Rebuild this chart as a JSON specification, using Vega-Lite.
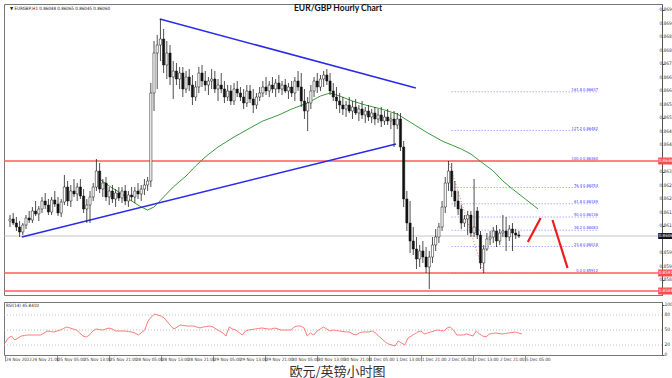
{
"$schema":"https://vega.github.io/schema/vega-lite/v6.json",
"padding":{"left":2,"top":3,"right":0,"bottom":0},
"background":"white",
"config":{"view":{"stroke":"#777","strokeWidth":1},"font":"Liberation Sans"},
"spacing":5,
"title":{"text":"欧元/英镑小时图","orient":"bottom","anchor":"start","dx":287,"font":"Noto Sans CJK SC","fontSize":13,"fontWeight":"normal","color":"#333","offset":4},
"datasets":{
"bars":[
{"i":0,"o":0.8612,"h":0.86144,"l":0.86096,"c":0.86128,"r":24},
{"i":1,"o":0.86128,"h":0.86152,"l":0.86104,"c":0.86112,"r":34},
{"i":2,"o":0.86112,"h":0.86136,"l":0.8608,"c":0.86096,"r":38},
{"i":3,"o":0.86096,"h":0.8612,"l":0.86056,"c":0.86076,"r":30},
{"i":4,"o":0.86076,"h":0.86112,"l":0.86064,"c":0.86104,"r":34},
{"i":5,"o":0.86104,"h":0.86144,"l":0.86088,"c":0.86132,"r":38},
{"i":6,"o":0.86132,"h":0.8616,"l":0.86112,"c":0.86124,"r":39},
{"i":7,"o":0.86124,"h":0.86176,"l":0.86112,"c":0.8616,"r":40},
{"i":8,"o":0.8616,"h":0.862,"l":0.8614,"c":0.86148,"r":40},
{"i":9,"o":0.86148,"h":0.8618,"l":0.8612,"c":0.86168,"r":40},
{"i":10,"o":0.86168,"h":0.86216,"l":0.86152,"c":0.862,"r":40},
{"i":11,"o":0.862,"h":0.86232,"l":0.86168,"c":0.86184,"r":40},
{"i":12,"o":0.86184,"h":0.86208,"l":0.86144,"c":0.86156,"r":44},
{"i":13,"o":0.86156,"h":0.86216,"l":0.86144,"c":0.86204,"r":48},
{"i":14,"o":0.86204,"h":0.8624,"l":0.86176,"c":0.86188,"r":47},
{"i":15,"o":0.86188,"h":0.86216,"l":0.8614,"c":0.86152,"r":46},
{"i":16,"o":0.86152,"h":0.86208,"l":0.86136,"c":0.86196,"r":48},
{"i":17,"o":0.86196,"h":0.86304,"l":0.86184,"c":0.86256,"r":50},
{"i":18,"o":0.86256,"h":0.8628,"l":0.8618,"c":0.862,"r":53},
{"i":19,"o":0.862,"h":0.86264,"l":0.86176,"c":0.8624,"r":56},
{"i":20,"o":0.8624,"h":0.86288,"l":0.86216,"c":0.86228,"r":54},
{"i":21,"o":0.86228,"h":0.86272,"l":0.862,"c":0.86256,"r":52},
{"i":22,"o":0.86256,"h":0.86288,"l":0.86208,"c":0.8622,"r":50},
{"i":23,"o":0.8622,"h":0.86248,"l":0.86152,"c":0.86168,"r":44},
{"i":24,"o":0.86168,"h":0.86208,"l":0.86112,"c":0.86184,"r":38},
{"i":25,"o":0.86184,"h":0.8624,"l":0.86112,"c":0.86216,"r":36},
{"i":26,"o":0.86216,"h":0.86272,"l":0.862,"c":0.86256,"r":40},
{"i":27,"o":0.86256,"h":0.86368,"l":0.8624,"c":0.8632,"r":48},
{"i":28,"o":0.8632,"h":0.86352,"l":0.86232,"c":0.86248,"r":52},
{"i":29,"o":0.86248,"h":0.86288,"l":0.86216,"c":0.86272,"r":51},
{"i":30,"o":0.86272,"h":0.86296,"l":0.862,"c":0.86216,"r":50},
{"i":31,"o":0.86216,"h":0.86256,"l":0.86184,"c":0.8624,"r":52},
{"i":32,"o":0.8624,"h":0.86264,"l":0.86192,"c":0.86208,"r":54},
{"i":33,"o":0.86208,"h":0.86248,"l":0.86176,"c":0.86232,"r":52},
{"i":34,"o":0.86232,"h":0.86256,"l":0.862,"c":0.86212,"r":48},
{"i":35,"o":0.86212,"h":0.86256,"l":0.86192,"c":0.8624,"r":48},
{"i":36,"o":0.8624,"h":0.86264,"l":0.86184,"c":0.862,"r":48},
{"i":37,"o":0.862,"h":0.8624,"l":0.86176,"c":0.86224,"r":48},
{"i":38,"o":0.86224,"h":0.86256,"l":0.862,"c":0.86216,"r":47},
{"i":39,"o":0.86216,"h":0.86256,"l":0.86192,"c":0.8624,"r":46},
{"i":40,"o":0.8624,"h":0.86272,"l":0.86208,"c":0.86228,"r":44},
{"i":41,"o":0.86228,"h":0.86264,"l":0.862,"c":0.86248,"r":40},
{"i":42,"o":0.86248,"h":0.86288,"l":0.86224,"c":0.86264,"r":45},
{"i":43,"o":0.86264,"h":0.86296,"l":0.8624,"c":0.8628,"r":50},
{"i":44,"o":0.8628,"h":0.86672,"l":0.86256,"c":0.86632,"r":68},
{"i":45,"o":0.86632,"h":0.8684,"l":0.8656,"c":0.86792,"r":76},
{"i":46,"o":0.86792,"h":0.86864,"l":0.86648,"c":0.86824,"r":82},
{"i":47,"o":0.86824,"h":0.86928,"l":0.8676,"c":0.86848,"r":80},
{"i":48,"o":0.86848,"h":0.86888,"l":0.86712,"c":0.86744,"r":78},
{"i":49,"o":0.86744,"h":0.8684,"l":0.86688,"c":0.86792,"r":74},
{"i":50,"o":0.86792,"h":0.86824,"l":0.86664,"c":0.86696,"r":66},
{"i":51,"o":0.86696,"h":0.8676,"l":0.86608,"c":0.8672,"r":58},
{"i":52,"o":0.8672,"h":0.86752,"l":0.86664,"c":0.86688,"r":52},
{"i":53,"o":0.86688,"h":0.86736,"l":0.86648,"c":0.86712,"r":56},
{"i":54,"o":0.86712,"h":0.86736,"l":0.86616,"c":0.86648,"r":60},
{"i":55,"o":0.86648,"h":0.8672,"l":0.86632,"c":0.86696,"r":59},
{"i":56,"o":0.86696,"h":0.86728,"l":0.8664,"c":0.86664,"r":58},
{"i":57,"o":0.86664,"h":0.86704,"l":0.86584,"c":0.86616,"r":58},
{"i":58,"o":0.86616,"h":0.8668,"l":0.866,"c":0.86656,"r":58},
{"i":59,"o":0.86656,"h":0.86736,"l":0.86632,"c":0.86712,"r":56},
{"i":60,"o":0.86712,"h":0.86744,"l":0.86656,"c":0.8668,"r":54},
{"i":61,"o":0.8668,"h":0.8672,"l":0.8664,"c":0.86664,"r":56},
{"i":62,"o":0.86664,"h":0.86696,"l":0.86624,"c":0.8668,"r":57},
{"i":63,"o":0.8668,"h":0.86728,"l":0.86648,"c":0.86688,"r":58},
{"i":64,"o":0.86688,"h":0.8672,"l":0.86632,"c":0.86648,"r":56},
{"i":65,"o":0.86648,"h":0.86688,"l":0.866,"c":0.86664,"r":52},
{"i":66,"o":0.86664,"h":0.86712,"l":0.86632,"c":0.86648,"r":48},
{"i":67,"o":0.86648,"h":0.8668,"l":0.86592,"c":0.86616,"r":44},
{"i":68,"o":0.86616,"h":0.86664,"l":0.866,"c":0.8664,"r":38},
{"i":69,"o":0.8664,"h":0.86664,"l":0.86584,"c":0.866,"r":56},
{"i":70,"o":0.866,"h":0.86672,"l":0.86584,"c":0.86648,"r":52},
{"i":71,"o":0.86648,"h":0.8668,"l":0.86616,"c":0.86632,"r":50},
{"i":72,"o":0.86632,"h":0.86656,"l":0.866,"c":0.86616,"r":45},
{"i":73,"o":0.86616,"h":0.86648,"l":0.86568,"c":0.86592,"r":40},
{"i":74,"o":0.86592,"h":0.86664,"l":0.86576,"c":0.8664,"r":48},
{"i":75,"o":0.8664,"h":0.86664,"l":0.86592,"c":0.86608,"r":50},
{"i":76,"o":0.86608,"h":0.86648,"l":0.86552,"c":0.86584,"r":51},
{"i":77,"o":0.86584,"h":0.86632,"l":0.86568,"c":0.86616,"r":52},
{"i":78,"o":0.86616,"h":0.86656,"l":0.866,"c":0.86632,"r":53},
{"i":79,"o":0.86632,"h":0.8668,"l":0.86616,"c":0.86656,"r":54},
{"i":80,"o":0.86656,"h":0.86696,"l":0.86624,"c":0.8664,"r":53},
{"i":81,"o":0.8664,"h":0.8668,"l":0.86616,"c":0.86664,"r":52},
{"i":82,"o":0.86664,"h":0.86696,"l":0.86632,"c":0.86648,"r":52},
{"i":83,"o":0.86648,"h":0.86688,"l":0.86616,"c":0.86672,"r":54},
{"i":84,"o":0.86672,"h":0.86704,"l":0.86632,"c":0.86648,"r":52},
{"i":85,"o":0.86648,"h":0.8668,"l":0.86624,"c":0.86664,"r":50},
{"i":86,"o":0.86664,"h":0.86688,"l":0.86632,"c":0.8664,"r":50},
{"i":87,"o":0.8664,"h":0.86672,"l":0.86608,"c":0.86656,"r":50},
{"i":88,"o":0.86656,"h":0.8668,"l":0.86616,"c":0.86632,"r":50},
{"i":89,"o":0.86632,"h":0.86696,"l":0.866,"c":0.8668,"r":56},
{"i":90,"o":0.8668,"h":0.8672,"l":0.8664,"c":0.86656,"r":58},
{"i":91,"o":0.86656,"h":0.86712,"l":0.86576,"c":0.866,"r":58},
{"i":92,"o":0.866,"h":0.86648,"l":0.86528,"c":0.8656,"r":54},
{"i":93,"o":0.8656,"h":0.86616,"l":0.8648,"c":0.86592,"r":38},
{"i":94,"o":0.86592,"h":0.86664,"l":0.86568,"c":0.8664,"r":44},
{"i":95,"o":0.8664,"h":0.86696,"l":0.86616,"c":0.8668,"r":40},
{"i":96,"o":0.8668,"h":0.86712,"l":0.86632,"c":0.86656,"r":48},
{"i":97,"o":0.86656,"h":0.86704,"l":0.8664,"c":0.86688,"r":52},
{"i":98,"o":0.86688,"h":0.8672,"l":0.86656,"c":0.86704,"r":56},
{"i":99,"o":0.86704,"h":0.86728,"l":0.86664,"c":0.8668,"r":52},
{"i":100,"o":0.8668,"h":0.86712,"l":0.86624,"c":0.8664,"r":48},
{"i":101,"o":0.8664,"h":0.86672,"l":0.866,"c":0.86616,"r":50},
{"i":102,"o":0.86616,"h":0.86656,"l":0.86568,"c":0.866,"r":49},
{"i":103,"o":0.866,"h":0.86632,"l":0.86552,"c":0.86584,"r":48},
{"i":104,"o":0.86584,"h":0.86616,"l":0.86544,"c":0.86568,"r":47},
{"i":105,"o":0.86568,"h":0.866,"l":0.86536,"c":0.86584,"r":46},
{"i":106,"o":0.86584,"h":0.86616,"l":0.86552,"c":0.8656,"r":46},
{"i":107,"o":0.8656,"h":0.866,"l":0.86528,"c":0.86576,"r":42},
{"i":108,"o":0.86576,"h":0.86608,"l":0.86544,"c":0.86552,"r":40},
{"i":109,"o":0.86552,"h":0.86584,"l":0.8652,"c":0.86568,"r":44},
{"i":110,"o":0.86568,"h":0.866,"l":0.86528,"c":0.86544,"r":46},
{"i":111,"o":0.86544,"h":0.86576,"l":0.86512,"c":0.8656,"r":46},
{"i":112,"o":0.8656,"h":0.86584,"l":0.8652,"c":0.86536,"r":46},
{"i":113,"o":0.86536,"h":0.86568,"l":0.86512,"c":0.86552,"r":48},
{"i":114,"o":0.86552,"h":0.86576,"l":0.86504,"c":0.86528,"r":44},
{"i":115,"o":0.86528,"h":0.86568,"l":0.86512,"c":0.86544,"r":38},
{"i":116,"o":0.86544,"h":0.86576,"l":0.86496,"c":0.8652,"r":32},
{"i":117,"o":0.8652,"h":0.8656,"l":0.86504,"c":0.86536,"r":26},
{"i":118,"o":0.86536,"h":0.86568,"l":0.86504,"c":0.8652,"r":22},
{"i":119,"o":0.8652,"h":0.86552,"l":0.86488,"c":0.86528,"r":20},
{"i":120,"o":0.86528,"h":0.8656,"l":0.86416,"c":0.86504,"r":18},
{"i":121,"o":0.86504,"h":0.86552,"l":0.86488,"c":0.86528,"r":28},
{"i":122,"o":0.86528,"h":0.86552,"l":0.864,"c":0.86416,"r":24},
{"i":123,"o":0.86416,"h":0.8644,"l":0.86176,"c":0.86208,"r":20},
{"i":124,"o":0.86208,"h":0.8624,"l":0.8608,"c":0.86112,"r":34},
{"i":125,"o":0.86112,"h":0.862,"l":0.85992,"c":0.8604,"r":38},
{"i":126,"o":0.8604,"h":0.86096,"l":0.85984,"c":0.86008,"r":42},
{"i":127,"o":0.86008,"h":0.86056,"l":0.85928,"c":0.85968,"r":46},
{"i":128,"o":0.85968,"h":0.86024,"l":0.85936,"c":0.86,"r":48},
{"i":129,"o":0.86,"h":0.8604,"l":0.85952,"c":0.85976,"r":42},
{"i":130,"o":0.85976,"h":0.86016,"l":0.85912,"c":0.85936,"r":44},
{"i":131,"o":0.85936,"h":0.86,"l":0.85848,"c":0.85976,"r":46},
{"i":132,"o":0.85976,"h":0.86056,"l":0.85952,"c":0.86024,"r":48},
{"i":133,"o":0.86024,"h":0.86088,"l":0.86,"c":0.86056,"r":50},
{"i":134,"o":0.86056,"h":0.86112,"l":0.86032,"c":0.86096,"r":49},
{"i":135,"o":0.86096,"h":0.862,"l":0.8608,"c":0.86176,"r":48},
{"i":136,"o":0.86176,"h":0.86296,"l":0.86152,"c":0.86272,"r":54},
{"i":137,"o":0.86272,"h":0.8636,"l":0.8624,"c":0.8632,"r":56},
{"i":138,"o":0.8632,"h":0.86352,"l":0.86216,"c":0.8624,"r":50},
{"i":139,"o":0.8624,"h":0.8628,"l":0.86176,"c":0.862,"r":40},
{"i":140,"o":0.862,"h":0.8624,"l":0.86144,"c":0.86168,"r":40},
{"i":141,"o":0.86168,"h":0.86184,"l":0.86088,"c":0.86112,"r":40},
{"i":142,"o":0.86112,"h":0.86144,"l":0.86096,"c":0.86128,"r":42},
{"i":143,"o":0.86128,"h":0.8616,"l":0.86064,"c":0.86144,"r":40},
{"i":144,"o":0.86144,"h":0.8616,"l":0.86056,"c":0.86072,"r":38},
{"i":145,"o":0.86072,"h":0.86288,"l":0.86056,"c":0.86096,"r":48},
{"i":146,"o":0.8616,"h":0.86176,"l":0.86048,"c":0.86064,"r":42},
{"i":147,"o":0.86064,"h":0.8608,"l":0.85928,"c":0.85952,"r":38},
{"i":148,"o":0.85952,"h":0.86024,"l":0.85912,"c":0.86008,"r":36},
{"i":149,"o":0.86008,"h":0.86072,"l":0.86,"c":0.86048,"r":42},
{"i":150,"o":0.86048,"h":0.8608,"l":0.86024,"c":0.86056,"r":43},
{"i":151,"o":0.86056,"h":0.86096,"l":0.86032,"c":0.8608,"r":44},
{"i":152,"o":0.8608,"h":0.86104,"l":0.86016,"c":0.8604,"r":43},
{"i":153,"o":0.8604,"h":0.86088,"l":0.86024,"c":0.86072,"r":42},
{"i":154,"o":0.86072,"h":0.86144,"l":0.86056,"c":0.8608,"r":43},
{"i":155,"o":0.8608,"h":0.86136,"l":0.86,"c":0.86056,"r":44},
{"i":156,"o":0.86056,"h":0.86104,"l":0.8604,"c":0.86088,"r":45},
{"i":157,"o":0.86088,"h":0.86112,"l":0.86,"c":0.86072,"r":46},
{"i":158,"o":0.86072,"h":0.86088,"l":0.86048,"c":0.86064,"r":44},
{"i":159,"o":0.86064,"h":0.8608,"l":0.86052,"c":0.8606,"r":42}
],
"ma":[
{"i":28,"p":0.86288},{"i":31,"p":0.8626},{"i":35,"p":0.86228},{"i":38,"p":0.862},{"i":41,"p":0.86176},{"i":43,"p":0.86164},{"i":45,"p":0.86176},{"i":48,"p":0.86216},{"i":51,"p":0.86256},{"i":55,"p":0.863},{"i":58,"p":0.8634},{"i":61,"p":0.86376},{"i":65,"p":0.86416},{"i":70,"p":0.86456},{"i":75,"p":0.86492},{"i":79,"p":0.8652},{"i":84,"p":0.86544},{"i":88,"p":0.86568},{"i":93,"p":0.86592},{"i":97,"p":0.8662},{"i":100,"p":0.86632},{"i":103,"p":0.8662},{"i":107,"p":0.866},{"i":111,"p":0.86584},{"i":116,"p":0.86568},{"i":121,"p":0.86548},{"i":125,"p":0.86516},{"i":130,"p":0.86476},{"i":135,"p":0.8644},{"i":138,"p":0.86424},{"i":141,"p":0.86408},{"i":144,"p":0.86388},{"i":146,"p":0.86368},{"i":151,"p":0.8632},{"i":154,"p":0.8628},{"i":157,"p":0.86248},{"i":161,"p":0.86208},{"i":165,"p":0.86168}
],
"seg":[
{"g":"t1","k":"blue","i":3.7,"p":0.86056},{"g":"t1","k":"blue","i":120.6,"p":0.86428},
{"g":"t2","k":"blue","i":46.8,"p":0.86928},{"g":"t2","k":"blue","i":126.8,"p":0.86652},
{"g":"a1","k":"arrow","i":161.8,"p":0.86036},{"g":"a1","k":"arrow","i":165.8,"p":0.86132},
{"g":"a2","k":"arrow","i":169.5,"p":0.86124},{"g":"a2","k":"arrow","i":174.2,"p":0.85932},
{"g":"f","k":"fib","i":137,"p":0.8636},{"g":"f","k":"fib","i":148,"p":0.85912}
],
"fib":[
{"lab":"0.0 0.85912","p":0.85912},{"lab":"23.6 0.86018","p":0.86018},{"lab":"38.2 0.86083","p":0.86083},{"lab":"50.0 0.86136","p":0.86136},{"lab":"61.8 0.86189","p":0.86189},{"lab":"76.4 0.86254","p":0.86254},{"lab":"100.0 0.86360","p":0.8636},{"lab":"127.2 0.86482","p":0.86482},{"lab":"161.8 0.86637","p":0.86637}
],
"hl":[{"p":0.8636,"lab":"0.86360"},{"p":0.85912,"lab":"0.85912"},{"p":0.8584,"lab":"0.85840"}],
"cur":[{"p":0.8606,"lab":"0.86060"}],
"yt":[{"p":0.86964},{"p":0.8691},{"p":0.86856},{"p":0.86802},{"p":0.86748},{"p":0.86694},{"p":0.8664},{"p":0.86586},{"p":0.86532},{"p":0.86478},{"p":0.86424},{"p":0.86316},{"p":0.86262},{"p":0.86208},{"p":0.86154},{"p":0.861},{"p":0.85992},{"p":0.85938},{"p":0.85884}],
"rt":[{"v":0},{"v":20},{"v":50},{"v":80},{"v":100}],
"xt":[{"i":0,"lab":"24 Nov 2022"},{"i":8,"lab":"24 Nov 21:00"},{"i":16,"lab":"25 Nov 05:00"},{"i":24,"lab":"25 Nov 13:00"},{"i":32,"lab":"25 Nov 21:00"},{"i":40,"lab":"28 Nov 05:00"},{"i":48,"lab":"28 Nov 13:00"},{"i":56,"lab":"28 Nov 21:00"},{"i":64,"lab":"29 Nov 05:00"},{"i":72,"lab":"29 Nov 13:00"},{"i":80,"lab":"29 Nov 21:00"},{"i":88,"lab":"30 Nov 05:00"},{"i":96,"lab":"30 Nov 13:00"},{"i":104,"lab":"30 Nov 21:00"},{"i":112,"lab":"1 Dec 05:00"},{"i":120,"lab":"1 Dec 13:00"},{"i":128,"lab":"1 Dec 21:00"},{"i":136,"lab":"2 Dec 05:00"},{"i":144,"lab":"2 Dec 13:00"},{"i":152,"lab":"2 Dec 21:00"},{"i":160,"lab":"5 Dec 05:00"}]
},
"vconcat":[
{"width":658,"height":291,
"layer":[
{"data":{"name":"cur"},"mark":{"type":"rule","color":"#b8b8b8","strokeWidth":0.8},
 "encoding":{"y":{"field":"p","type":"quantitative","scale":{"domain":[0.85824,0.86988],"zero":false,"nice":false},
  "axis":{"orient":"right","title":null,"grid":false,"labels":false,"values":[0.86964,0.8691,0.86856,0.86802,0.86748,0.86694,0.8664,0.86586,0.86532,0.86478,0.86424,0.8637,0.86316,0.86262,0.86208,0.86154,0.861,0.86046,0.85992,0.85938,0.85884],"tickSize":2,"tickColor":"#555","domainColor":"#555"}}}},
{"data":{"name":"fib"},"mark":{"type":"rule","color":"#6a6aff","strokeWidth":0.8,"strokeDash":[1,2]},
 "encoding":{"x":{"datum":138,"scale":{"domain":[-0.31,202.15],"nice":false,"zero":false},"axis":null},"x2":{"datum":184},"y":{"field":"p","type":"quantitative"}}},
{"data":{"name":"hl"},"mark":{"type":"rule","color":"#ff5c5c","strokeWidth":1.5},
 "encoding":{"y":{"field":"p","type":"quantitative"}}},
{"data":{"name":"ma"},"mark":{"type":"line","color":"#3c9a3c","strokeWidth":1},
 "encoding":{"x":{"field":"i","type":"quantitative","axis":null},"y":{"field":"p","type":"quantitative"}}},
{"data":{"name":"seg"},"transform":[{"filter":"datum.k=='blue'"}],"mark":{"type":"line","color":"#2a2ae8","strokeWidth":1.5},
 "encoding":{"x":{"field":"i","type":"quantitative","axis":null},"y":{"field":"p","type":"quantitative"},"detail":{"field":"g"}}},
{"data":{"name":"seg"},"transform":[{"filter":"datum.k=='fib'"}],"mark":{"type":"line","color":"#ff4040","strokeWidth":0.8,"strokeDash":[1,2]},
 "encoding":{"x":{"field":"i","type":"quantitative","axis":null},"y":{"field":"p","type":"quantitative"},"detail":{"field":"g"}}},
{"data":{"name":"bars"},"mark":{"type":"rule","color":"#222","strokeWidth":0.8},
 "encoding":{"x":{"field":"i","type":"quantitative","axis":null},"y":{"field":"l","type":"quantitative"},"y2":{"field":"h"}}},
{"data":{"name":"bars"},"mark":{"type":"bar","size":2.2,"stroke":"#111","strokeWidth":0.5},
 "encoding":{"x":{"field":"i","type":"quantitative","axis":null},"y":{"field":"o","type":"quantitative"},"y2":{"field":"c"},
  "fill":{"condition":{"test":"datum.c > datum.o","value":"#ffffff"},"value":"#111111"}}},
{"data":{"name":"seg"},"transform":[{"filter":"datum.k=='arrow'"}],"mark":{"type":"line","color":"#ee1c1c","strokeWidth":2.2},
 "encoding":{"x":{"field":"i","type":"quantitative","axis":null},"y":{"field":"p","type":"quantitative"},"detail":{"field":"g"}}},
{"data":{"name":"fib"},"mark":{"type":"text","align":"right","baseline":"bottom","font":"Liberation Sans Narrow, DejaVu Sans Condensed, Liberation Sans","fontSize":4,"color":"#3d3dff"},
 "encoding":{"x":{"datum":183.7},"y":{"field":"p","type":"quantitative"},"text":{"field":"lab"}}},
{"data":{"name":"yt"},"mark":{"type":"text","align":"left","baseline":"middle","font":"Liberation Sans Narrow, DejaVu Sans Condensed, Liberation Sans","fontSize":4.8,"color":"#333"},
 "encoding":{"x":{"datum":202.9},"y":{"field":"p","type":"quantitative"},"text":{"field":"p","format":".5f"}}},
{"data":{"name":"hl"},"mark":{"type":"tick","orient":"horizontal","color":"#ff4b4b","thickness":7,"size":14,"opacity":1},
 "encoding":{"x":{"datum":204.7},"y":{"field":"p","type":"quantitative"}}},
{"data":{"name":"cur"},"mark":{"type":"tick","orient":"horizontal","color":"#111","thickness":6,"size":14,"opacity":1},
 "encoding":{"x":{"datum":204.7},"y":{"field":"p","type":"quantitative"}}},
{"data":{"name":"hl"},"mark":{"type":"text","align":"left","baseline":"middle","font":"Liberation Sans Narrow, DejaVu Sans Condensed, Liberation Sans","fontSize":4.5,"color":"#fff"},
 "encoding":{"x":{"datum":202.7},"y":{"field":"p","type":"quantitative"},"text":{"field":"lab"}}},
{"data":{"name":"cur"},"mark":{"type":"text","align":"left","baseline":"middle","font":"Liberation Sans Narrow, DejaVu Sans Condensed, Liberation Sans","fontSize":4.5,"color":"#fff"},
 "encoding":{"x":{"datum":202.7},"y":{"field":"p","type":"quantitative"},"text":{"field":"lab"}}},
{"data":{"values":[{}]},"mark":{"type":"text","text":"EUR/GBP Hourly Chart","font":"Lato","fontWeight":"bold","fontSize":8.5,"color":"#111","align":"center","baseline":"middle"},
 "encoding":{"x":{"datum":102.5},"y":{"datum":0.86974}}},
{"data":{"values":[{}]},"mark":{"type":"text","text":"▼ EURGBP,H1  0.86048 0.86065 0.86045 0.86060","font":"Liberation Sans Narrow, DejaVu Sans Condensed, Liberation Sans","fontSize":4.5,"color":"#222","align":"left","baseline":"middle"},
 "encoding":{"x":{"datum":0},"y":{"datum":0.8697}}}
]},
{"width":658,"height":53,
"layer":[
{"data":{"values":[{"v":20},{"v":50},{"v":80}]},"mark":{"type":"rule","color":"#b0b0b0","strokeWidth":0.8,"strokeDash":[1,2]},
 "encoding":{"y":{"field":"v","type":"quantitative","scale":{"domain":[0,106],"nice":false,"zero":true},
  "axis":{"orient":"right","values":[0,20,50,80,100],"title":null,"grid":false,"labels":false,"tickSize":2,"tickColor":"#555","domainColor":"#555"}}}},
{"data":{"name":"bars"},"mark":{"type":"line","color":"#ff7b7b","strokeWidth":1},
 "encoding":{"x":{"field":"i","type":"quantitative","scale":{"domain":[-0.31,202.15],"nice":false,"zero":false},
  "axis":{"orient":"bottom","title":null,"grid":false,"domain":false,"labels":false,"values":[0,8,16,24,32,40,48,56,64,72,80,88,96,104,112,120,128,136,144,152,160],"tickSize":6,"tickColor":"#777","tickWidth":0.8}},
  "y":{"field":"r","type":"quantitative"}}},
{"data":{"name":"rt"},"mark":{"type":"text","align":"left","baseline":"middle","font":"Liberation Sans Narrow, DejaVu Sans Condensed, Liberation Sans","fontSize":4.8,"color":"#333"},
 "encoding":{"x":{"datum":202.9},"y":{"field":"v","type":"quantitative"},"text":{"field":"v"}}},
{"data":{"name":"xt"},"mark":{"type":"text","align":"left","baseline":"top","font":"Liberation Sans Narrow, DejaVu Sans Condensed, Liberation Sans","fontSize":4.5,"color":"#333","dx":1},
 "encoding":{"x":{"field":"i","type":"quantitative"},"y":{"datum":-3.5},"text":{"field":"lab"}}},
{"data":{"values":[{}]},"mark":{"type":"text","text":"RSI(14) 45.8410","font":"Liberation Sans Narrow, DejaVu Sans Condensed, Liberation Sans","fontSize":4.5,"color":"#222","align":"left","baseline":"middle"},
 "encoding":{"x":{"datum":0.3},"y":{"datum":98}}}
]}
]
}
